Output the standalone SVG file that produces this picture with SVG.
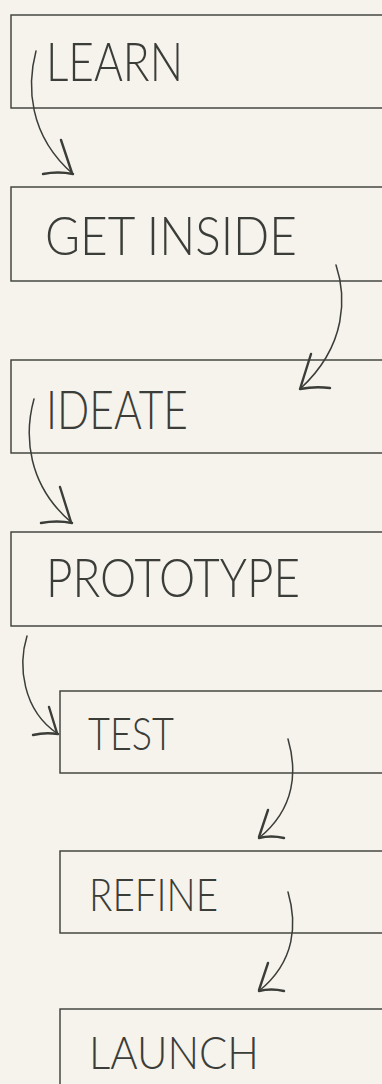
<svg xmlns="http://www.w3.org/2000/svg" width="382" height="1084" viewBox="0 0 382 1084">
<style>
.box{fill:none;stroke:#3b3d38;stroke-width:1.4}
.lbl{font-family:Lato,"Liberation Sans",sans-serif;font-weight:300;fill:#3b3d38}
.big{font-size:53px}
.small{font-size:46px}
.shaft{fill:none;stroke:#3b3d38;stroke-width:1.5;stroke-linecap:round}
.head{fill:none;stroke:#3b3d38;stroke-width:2.4;stroke-linecap:round;stroke-linejoin:round}
</style>
<rect width="382" height="1084" fill="#f6f2ec"/>
<g id="learn"><rect class="box" x="11" y="15" width="400" height="93"/><text class="lbl big" x="46" y="81" textLength="137" lengthAdjust="spacingAndGlyphs">LEARN</text></g>
<g id="get-inside"><rect class="box" x="11" y="187" width="400" height="94"/><text class="lbl big" x="45" y="255" textLength="252" lengthAdjust="spacingAndGlyphs">GET INSIDE</text></g>
<g id="ideate"><rect class="box" x="11" y="360" width="400" height="93"/><text class="lbl big" x="46" y="429" textLength="142" lengthAdjust="spacingAndGlyphs">IDEATE</text></g>
<g id="prototype"><rect class="box" x="11" y="532" width="400" height="94"/><text class="lbl big" x="46" y="597" textLength="254" lengthAdjust="spacingAndGlyphs">PROTOTYPE</text></g>
<g id="test"><rect class="box" x="60" y="691" width="400" height="82"/><text class="lbl small" x="88" y="750" textLength="86" lengthAdjust="spacingAndGlyphs">TEST</text></g>
<g id="refine"><rect class="box" x="60" y="851" width="400" height="82"/><text class="lbl small" x="89" y="911" textLength="129" lengthAdjust="spacingAndGlyphs">REFINE</text></g>
<g id="launch"><rect class="box" x="60" y="1009" width="400" height="100"/><text class="lbl small" x="89" y="1069" textLength="170" lengthAdjust="spacingAndGlyphs">LAUNCH</text></g>
<g id="connectors">
<path class="shaft" d="M36,51 C27,85 28,135 73,174"/>
<path class="head" d="M61,140 L72,173 M43,174 Q58,171 73,174"/>
<path class="shaft" d="M336,265 C346,295 348,345 300,389"/>
<path class="head" d="M311,354 L300,389 M330,388 Q315,386 300,389"/>
<path class="shaft" d="M34,399 C24,435 27,485 72,523"/>
<path class="head" d="M60,487 L71,522 M41,523 Q57,520 72,523"/>
<path class="shaft" d="M27,636 C18,665 22,710 58,734"/>
<path class="head" d="M49,707 L57,733 M33,735 Q45,732 58,734"/>
<path class="shaft" d="M288,739 C297,770 296,808 259,838"/>
<path class="head" d="M268,810 L259,837 M284,838 Q271,835 259,838"/>
<path class="shaft" d="M288,892 C297,923 296,961 259,991"/>
<path class="head" d="M268,963 L259,990 M284,991 Q271,988 259,991"/>
</g>
</svg>
